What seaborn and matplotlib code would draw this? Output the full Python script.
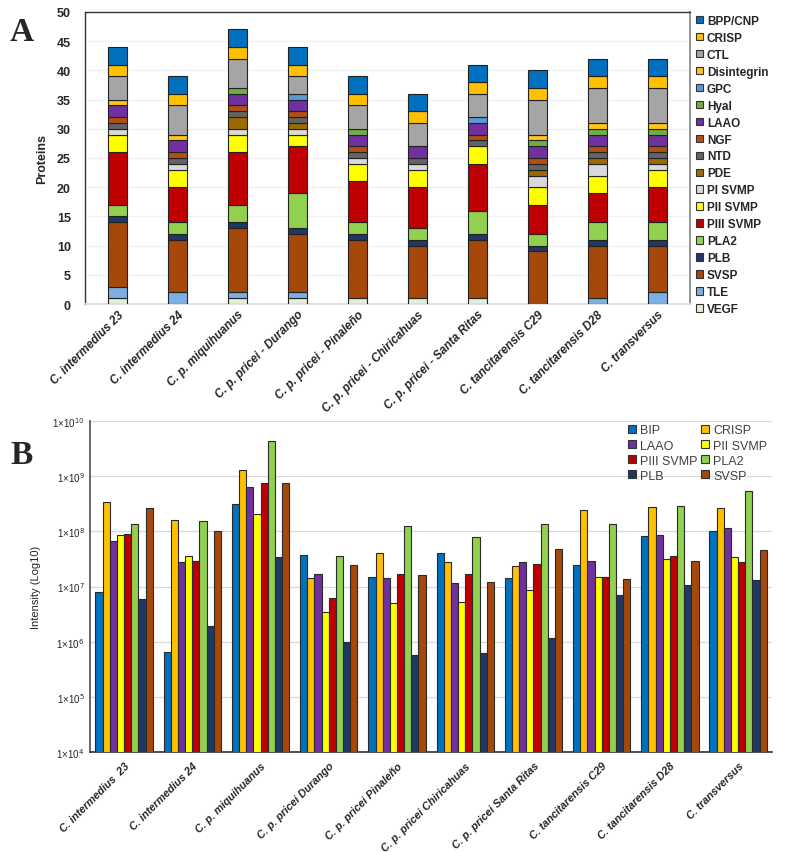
import numpy as np
import pandas as pd
import matplotlib
matplotlib.use("Agg")
import matplotlib.pyplot as plt
import seaborn as sns
from matplotlib.patches import Patch

sns.set_theme(style="white")
plt.rcParams['font.family'] = ['Liberation Sans', 'DejaVu Sans']

# ---------------- Panel A data ----------------
species_a = ["C. intermedius 23", "C. intermedius 24", "C. p. miquihuanus",
             "C. p. pricei - Durango", "C. p. pricei - Pinaleño",
             "C. p. pricei - Chiricahuas", "C. p. pricei - Santa Ritas",
             "C. tancitarensis C29", "C. tancitarensis D28", "C. transversus"]
families_a = ["BPP/CNP", "CRISP", "CTL", "Disintegrin", "GPC", "Hyal", "LAAO",
              "NGF", "NTD", "PDE", "PI SVMP", "PII SVMP", "PIII SVMP", "PLA2",
              "PLB", "SVSP", "TLE", "VEGF"]
colors_a = ["#0070C0", "#FFC000", "#A5A5A5", "#FFC51A", "#5B9BD5", "#70AD47",
            "#7030A0", "#B4500F", "#636363", "#9C6B00", "#D9D9D9", "#FFFF00",
            "#C00000", "#92D050", "#203864", "#A5480A", "#7FAEE0", "#E2EFDA"]
counts_a = {
    "BPP/CNP":     [3, 3, 3, 3, 3, 3, 3, 3, 3, 3],
    "CRISP":       [2, 2, 2, 2, 2, 2, 2, 2, 2, 2],
    "CTL":         [4, 5, 5, 3, 4, 4, 4, 6, 6, 6],
    "Disintegrin": [1, 1, 0, 0, 0, 0, 0, 1, 1, 1],
    "GPC":         [0, 0, 0, 1, 0, 0, 1, 0, 0, 0],
    "Hyal":        [0, 0, 1, 0, 1, 0, 0, 1, 1, 1],
    "LAAO":        [2, 2, 2, 2, 2, 2, 2, 2, 2, 2],
    "NGF":         [1, 1, 1, 1, 1, 0, 1, 1, 1, 1],
    "NTD":         [1, 1, 1, 1, 1, 1, 1, 1, 1, 1],
    "PDE":         [0, 0, 2, 1, 0, 0, 0, 1, 1, 1],
    "PI SVMP":     [1, 1, 1, 1, 1, 1, 0, 2, 2, 1],
    "PII SVMP":    [3, 3, 3, 2, 3, 3, 3, 3, 3, 3],
    "PIII SVMP":   [9, 6, 9, 8, 7, 7, 8, 5, 5, 6],
    "PLA2":        [2, 2, 3, 6, 2, 2, 4, 2, 3, 3],
    "PLB":         [1, 1, 1, 1, 1, 1, 1, 1, 1, 1],
    "SVSP":        [11, 9, 11, 10, 10, 9, 10, 9, 9, 8],
    "TLE":         [2, 2, 1, 1, 0, 0, 0, 0, 1, 2],
    "VEGF":        [1, 0, 1, 1, 1, 1, 1, 0, 0, 0],
}

# ---------------- Panel B data ----------------
species_b = ["C. intermedius  23", "C. intermedius 24", "C. p. miquihuanus",
             "C. p. pricei Durango", "C. p. pricei Pinaleño",
             "C. p. pricei Chiricahuas", "C. p. pricei Santa Ritas",
             "C. tancitarensis C29", "C. tancitarensis D28", "C. transversus"]
families_b = ["BIP", "CRISP", "LAAO", "PII SVMP", "PIII SVMP", "PLA2", "PLB", "SVSP"]
colors_b = ["#0070C0", "#FFC000", "#7030A0", "#FFFF00", "#C00000", "#92D050",
            "#203864", "#A5480A"]
bip   = [7.8e6, 6.5e5, 3.2e8, 3.8e7, 1.5e7, 4.0e7, 1.4e7, 2.5e7, 8.1e7, 1.0e8]
crisp = [3.4e8, 1.6e8, 1.3e9, 1.4e7, 4.0e7, 2.8e7, 2.4e7, 2.45e8, 2.8e8, 2.6e8]
laao  = [6.6e7, 2.8e7, 6.4e8, 1.67e7, 1.45e7, 1.15e7, 2.8e7, 2.96e7, 8.5e7, 1.17e8]
pii   = [8.5e7, 3.6e7, 2.1e8, 3.5e6, 5.1e6, 5.3e6, 8.7e6, 1.5e7, 3.1e7, 3.4e7]
piii  = [8.9e7, 2.96e7, 7.5e8, 6.2e6, 1.66e7, 1.7e7, 2.6e7, 1.46e7, 3.55e7, 2.8e7]
pla2  = [1.35e8, 1.56e8, 4.4e9, 3.6e7, 1.23e8, 7.9e7, 1.38e8, 1.38e8, 2.9e8, 5.3e8]
plb   = [6.0e6, 1.9e6, 3.4e7, 9.8e5, 5.8e5, 6.3e5, 1.15e6, 6.9e6, 1.05e7, 1.3e7]
svsp  = [2.7e8, 1.0e8, 7.6e8, 2.5e7, 1.6e7, 1.23e7, 4.8e7, 1.36e7, 2.96e7, 4.6e7]
values_b = [bip, crisp, laao, pii, piii, pla2, plb, svsp]

fig = plt.figure(figsize=(7.86, 8.53), dpi=100)

# ================= Panel A =================
axA = fig.add_axes([0.108, 0.6424, 0.770, 0.3424])
x = np.arange(len(species_a))
bottom = np.zeros(len(species_a))
stack_order = families_a[::-1]  # VEGF at bottom
for fam in stack_order:
    col = colors_a[families_a.index(fam)]
    vals = np.array(counts_a[fam], dtype=float)
    mask = vals > 0
    axA.bar(x[mask], vals[mask], bottom=bottom[mask], width=0.32, color=col,
            edgecolor="#222222", linewidth=0.8, zorder=3)
    bottom += vals
axA.set_xlim(-0.55, len(species_a) - 0.45)
axA.set_ylim(0, 50)
axA.set_yticks(range(0, 51, 5))
axA.yaxis.grid(True, color="#EEF0F4", linewidth=0.8, zorder=0)
axA.set_xticks(x)
axA.set_xticklabels(species_a, rotation=45, ha="right", rotation_mode="anchor",
                    fontsize=8.5, fontweight="bold", fontstyle="italic")
for lab in axA.get_yticklabels():
    lab.set_fontweight("bold")
    lab.set_fontsize(9)
axA.tick_params(axis="both", length=0, pad=3)
axA.tick_params(axis="y", pad=10)
axA.set_ylabel("Proteins", fontsize=9, fontweight="bold", labelpad=6)
for s in ["left", "top"]:
    axA.spines[s].set_color("#333333")
    axA.spines[s].set_linewidth(1.0)
axA.spines["right"].set_color("#888888")
axA.spines["bottom"].set_color("#DDDDDD")

handlesA = [Patch(facecolor=c, edgecolor="#333333", linewidth=0.8, label=f)
            for f, c in zip(families_a, colors_a)]
fig.legend(handles=handlesA, loc="upper left", bbox_to_anchor=(0.879, 0.987),
           frameon=False, prop={"weight": "bold", "size": 8.5},
           handlelength=0.6, handleheight=0.6, handletextpad=0.35,
           labelspacing=0.42, borderaxespad=0)

# ================= Panel B =================
axB = fig.add_axes([0.1145, 0.1172, 0.868, 0.388])
rows = []
for fam, vals in zip(families_b, values_b):
    for sp, v in zip(species_b, vals):
        rows.append({"species": sp, "family": fam, "value": v})
dfB = pd.DataFrame(rows)
sns.barplot(data=dfB, x="species", y="value", hue="family", hue_order=families_b,
            order=species_b, palette=colors_b, width=0.84, gap=0, saturation=1,
            edgecolor="#2a2a2a", linewidth=0.8, ax=axB,
            errorbar=None, legend=False, zorder=3)
axB.set_yscale("log")
axB.set_ylim(1e4, 1e10)
ticks = [10 ** k for k in range(4, 11)]
axB.set_yticks(ticks)
axB.set_yticklabels([r"1×10$^{%d}$" % k for k in range(4, 11)], fontsize=7)
axB.minorticks_off()
axB.yaxis.grid(True, color="#D9D9D9", linewidth=0.9, zorder=0)
axB.set_xlim(-0.5, len(species_b) - 0.5)
axB.set_xticks(range(len(species_b)))
axB.set_xticklabels(species_b, rotation=45, ha="right", rotation_mode="anchor",
                    fontsize=7.8, fontweight="bold", fontstyle="italic")
axB.tick_params(axis="both", length=0, pad=6)
axB.tick_params(axis="y", pad=4)
axB.set_xlabel("")
axB.set_ylabel("Intensity (Log10)", fontsize=8, labelpad=8)
for s in ["top", "right"]:
    axB.spines[s].set_visible(False)
axB.spines["left"].set_color("#555555")
axB.spines["bottom"].set_color("#333333")
axB.spines["bottom"].set_linewidth(1.2)

handlesB = [Patch(facecolor=c, edgecolor="#333333", linewidth=0.8, label=f)
            for f, c in zip(families_b, colors_b)]
order_cols = [0, 2, 4, 6, 1, 3, 5, 7]
legB = axB.legend(handles=[handlesB[i] for i in order_cols], ncol=2,
                  loc="upper right", bbox_to_anchor=(1.0, 1.005), frameon=False,
                  prop={"size": 9}, handlelength=0.6, handleheight=0.6,
                  handletextpad=0.35, labelspacing=0.25, columnspacing=0.3,
                  borderaxespad=0)
for t in legB.get_texts():
    t.set_color("#404040")

fig.text(0.028, 0.962, "A", fontfamily="Liberation Serif", fontsize=24,
         fontweight="bold", ha="center", va="center")
fig.text(0.028, 0.466, "B", fontfamily="Liberation Serif", fontsize=24,
         fontweight="bold", ha="center", va="center")

fig.savefig("out.png", dpi=100)
